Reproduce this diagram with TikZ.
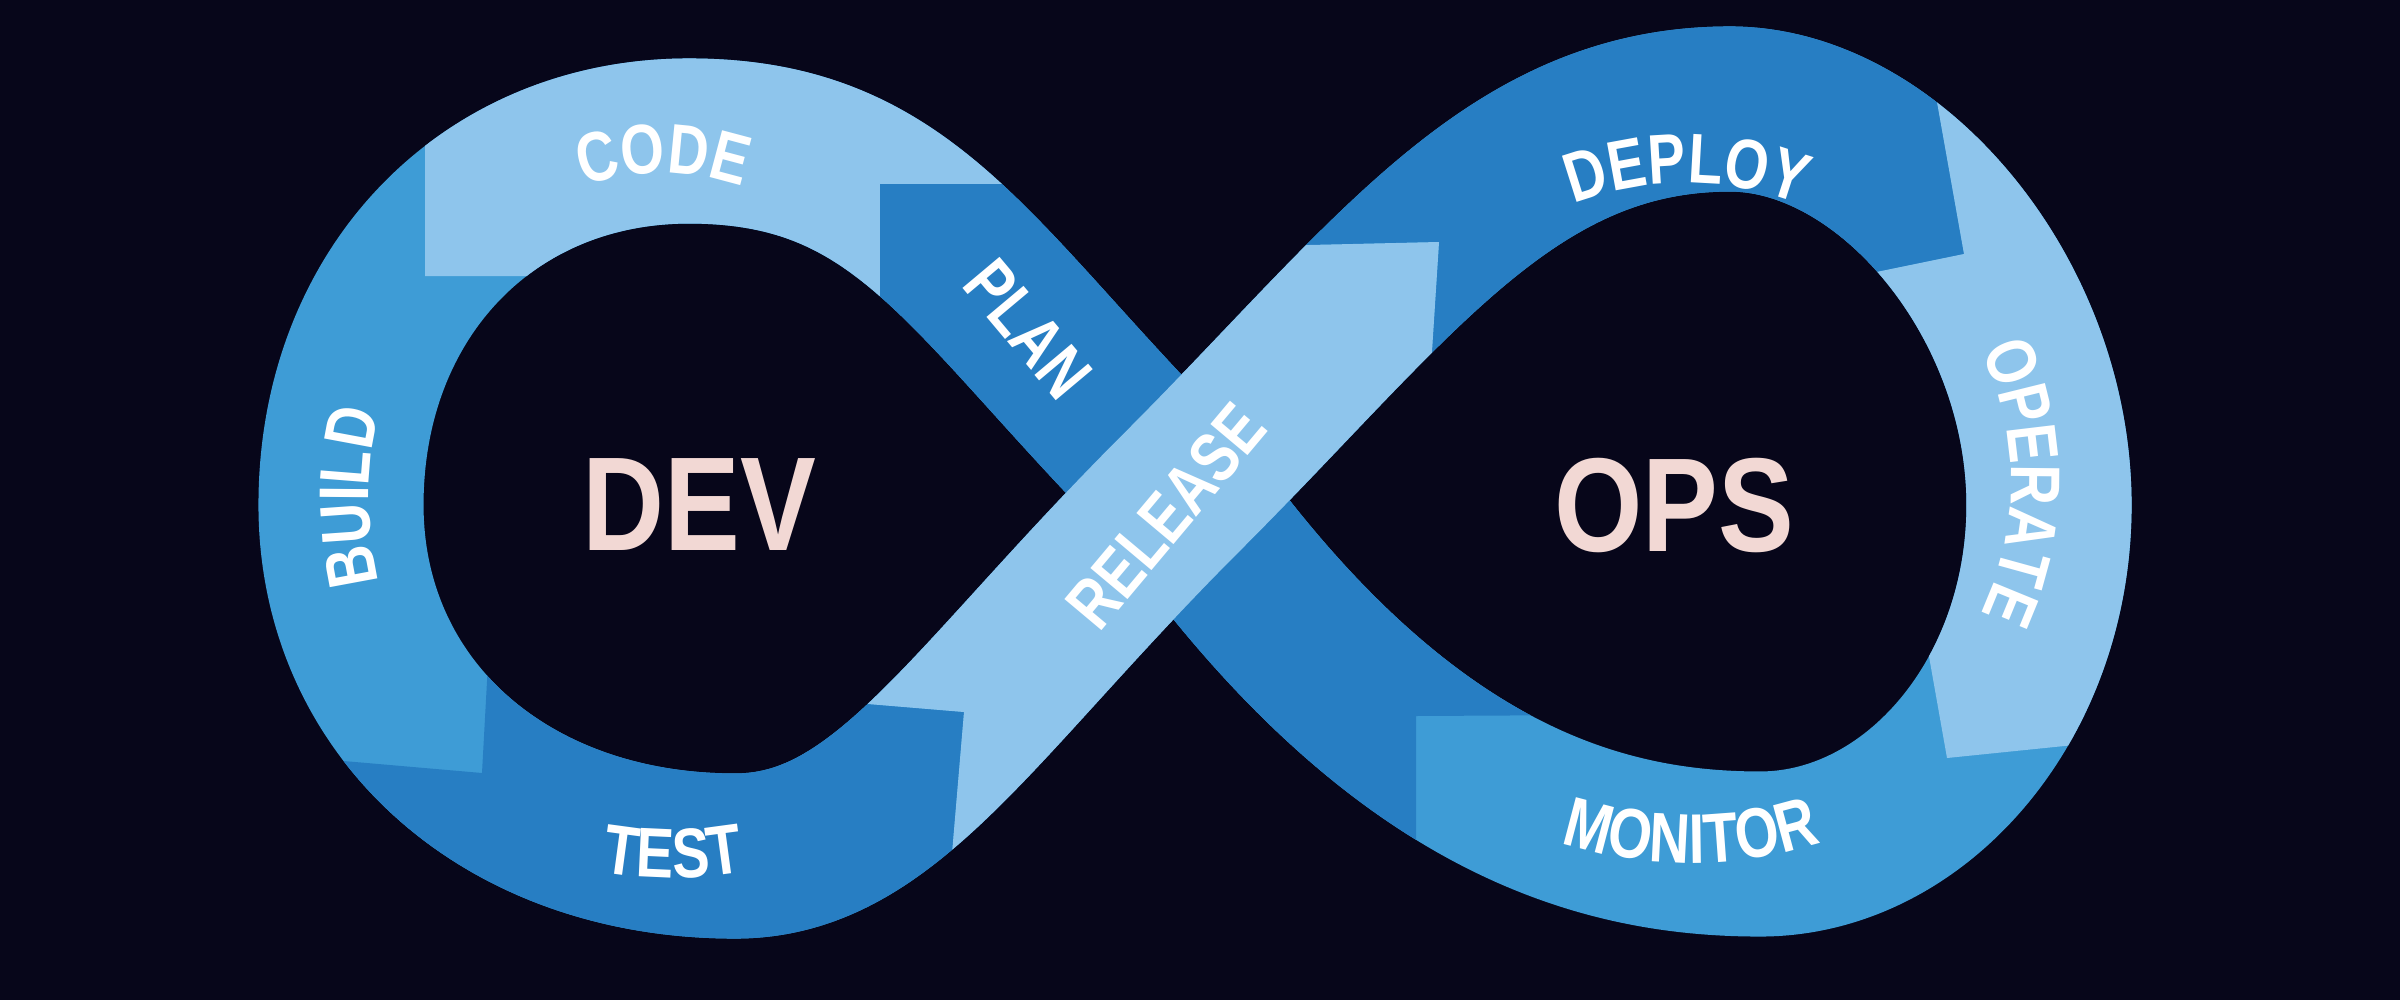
\documentclass[tikz,border=0pt]{standalone}
\usepackage{fontspec}
\newfontfamily\lblfam[FakeStretch=0.8]{Liberation Sans}
\newfontfamily\bigfam[FakeStretch=0.85]{Liberation Sans}
\usepackage{xcolor}
\usepackage{tikz}
\usetikzlibrary{decorations.text}

\definecolor{bg}{HTML}{07061A}
\definecolor{lightb}{HTML}{8EC5EC}
\definecolor{midb}{HTML}{3E9CD6}
\definecolor{darkb}{HTML}{277EC3}
\definecolor{pinktxt}{HTML}{F2D8D4}
\newcommand\lblfont{\lblfam\bfseries\fontsize{20}{21}\selectfont}

% centre line of the figure eight, one piece per quarter
\newcommand\CtoT{.. controls (969,281) and (909,141) .. (topL)}
\newcommand\TtoL{.. controls (487,141) and (341,294) .. (left)}
\newcommand\LtoB{.. controls (341,709) and (506,856) .. (botL)}
\newcommand\BtoC{.. controls (885,856) and (969,705) .. (cross)}
\newcommand\CtoTR{.. controls (1393,281) and (1510,109) .. (topR)}
\newcommand\TRtoR{.. controls (1890,109) and (2049,298) .. (right)}
\newcommand\RtoBR{.. controls (2049,700) and (1915,854) .. (botR)}
\newcommand\BRtoC{.. controls (1600,854) and (1400,800) .. (cross)}

\begin{document}
\begin{tikzpicture}[x=0.01cm, y=-0.01cm,
    band/.style={line width=1.65cm, line cap=butt},
    lbl/.style={text=white, font=\lblfont, inner sep=0pt},
    big/.style={text=pinktxt, font=\bigfam\bfseries\fontsize{38}{40}\selectfont, inner sep=0pt},
    curved/.style={decorate, decoration={text along path, text align=center,
        text color=white, text={|\lblfont|#1}}},
]
\fill[bg] (0,0) rectangle (2400,1000);
\useasboundingbox (0,0) rectangle (2400,1000);

\coordinate (cross) at (1181,493);
\coordinate (topL) at (689,141);
\coordinate (left) at (341,505);
\coordinate (botL) at (735,856);
\coordinate (topR) at (1730,109);
\coordinate (right) at (2049,505);
\coordinate (botR) at (1760,854);

% whole band (build, monitor)
\draw[band, midb] (cross) \CtoT \TtoL \LtoB \BtoC \CtoTR \TRtoR \RtoBR \BRtoC;

% code
\begin{scope}
\clip (1100,184) -- (880,184) -- (880,400) -- (600,400) -- (600,276) -- (425,276) -- (425,-50) -- (1100,-50) -- cycle;
\draw[band, lightb] (cross) \CtoT \TtoL;
\end{scope}

% plan
\begin{scope}
\clip (880,184) -- (1600,184) -- (1600,715) -- (1416,716) -- (1416,950) -- (880,950) -- cycle;
\draw[band, darkb] (botR) \BRtoC \CtoT;
\end{scope}

% test
\begin{scope}
\clip (240,752) -- (482,773) -- (492,590) -- (760,590) -- (760,695) -- (964,712) -- (943,960) -- (240,960) -- cycle;
\draw[band, darkb] (left) \LtoB \BtoC;
\end{scope}

% deploy
\begin{scope}
\clip (1180,248) -- (1439,242) -- (1425,460) -- (1760,460) -- (1760,296) -- (1964,254) -- (1910,-50) -- (1180,-50) -- cycle;
\draw[band, darkb] (cross) \CtoTR \TRtoR;
\end{scope}

% operate
\begin{scope}
\clip (1910,-50) -- (1964,254) -- (1760,296) -- (1760,560) -- (1919,600) -- (1947,758) -- (2250,727) -- (2400,727) -- (2400,-50) -- cycle;
\draw[band, lightb] (topR) \TRtoR \RtoBR;
\end{scope}

% release (on top at the crossing)
\begin{scope}
\clip (964,712) -- (760,695) -- (1180,248) -- (1439,242) -- (1425,460) -- (943,960) -- cycle;
\draw[band, lightb] (botL) \BtoC \CtoTR;
\end{scope}

% stage labels
\path[curved=CODE] (663,413) ++(-130:240) arc[start angle=-130, end angle=-50, radius=240];
\path[curved=BUILD] (725,497) ++(-210:356) arc[start angle=-210, end angle=-150, radius=356];
\path[curved=TEST] (673,471) ++(120:407) arc[start angle=120, end angle=60, radius=407];
\path[curved=DEPLOY] (1687,493) ++(-130:310) arc[start angle=-130, end angle=-50, radius=310];
\path[curved=OPERATE] (1710,482) ++(-45:301) arc[start angle=-45, end angle=45, radius=301];
\path[curved=MONITOR] (1691,436) ++(125:427) arc[start angle=125, end angle=55, radius=427];
\node[lbl, rotate=-50] (plan) at (1028,329) {PLAN};
\node[lbl, rotate=50] (release) at (1166,516) {RELEASE};

% centre words
\node[big] (dev) at (699,505) {DEV};
\node[big] (ops) at (1674,505) {OPS};
\end{tikzpicture}
\end{document}
